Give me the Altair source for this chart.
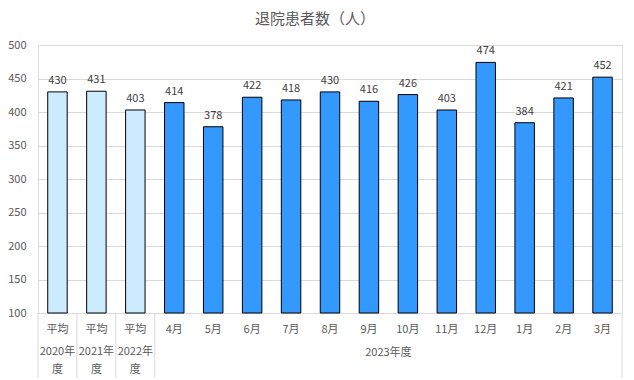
import altair as alt
import pandas as pd

top_labels = ["平均", "平均", "平均", "4月", "5月", "6月", "7月", "8月", "9月",
              "10月", "11月", "12月", "1月", "2月", "3月"]
group_labels = ["2020年度", "2021年度", "2022年度"] + ["2023年度"] * 12
values = [430, 431, 403, 414, 378, 422, 418, 430, 416, 426, 403, 474, 384, 421, 452]
kinds = ["avg", "avg", "avg"] + ["month"] * 12
y_ticks = [100, 150, 200, 250, 300, 350, 400, 450, 500]

keys = [t + "|" + g for t, g in zip(top_labels, group_labels)]
df = pd.DataFrame({"key": keys, "top": top_labels, "group": group_labels,
                   "value": values, "kind": kinds})
order = keys

FONT = "Noto Sans CJK JP"
GRAY = "#595959"

xs = alt.Scale(domain=order, paddingInner=0, paddingOuter=0)
X = alt.X("key:N", scale=xs, axis=None, sort=order)
ys = alt.Scale(domain=[100, 500], clamp=True, nice=False, zero=False)
Y = alt.Y("value:Q", scale=ys,
          axis=alt.Axis(values=y_ticks, title=None, labelOverlap=False,
                        domain=False, ticks=False, labelPadding=12, labelFontSize=11,
                        labelColor=GRAY, labelFont=FONT, gridColor="#D9D9D9"))

bars = alt.Chart(df).mark_bar(width={"band": 0.5}, stroke="black", strokeWidth=1).encode(
    x=X, y=Y,
    y2=alt.datum(100),
    color=alt.Color("kind:N", scale=alt.Scale(domain=["avg", "month"],
                                              range=["#CCEBFF", "#3399FF"]), legend=None),
)

vlabels = alt.Chart(df).mark_text(baseline="bottom", dy=-6, fontSize=11, color="#404040",
                                  font=FONT).encode(
    x=X, y=Y, text="value:Q")

toprow = alt.Chart(df).mark_text(fontSize=11, color=GRAY, font=FONT, baseline="middle").encode(
    x=X, y=alt.value(285), text="top:N")

avg = df[df.kind == "avg"].copy()
avg["l2"] = avg["group"].str[:5]
avg["l3"] = avg["group"].str[5:]
row2 = alt.Chart(avg).mark_text(fontSize=11, color=GRAY, font=FONT, baseline="middle").encode(
    x=X, y=alt.value(307), text="l2:N")
row3 = alt.Chart(avg).mark_text(fontSize=11, color=GRAY, font=FONT, baseline="middle").encode(
    x=X, y=alt.value(325), text="l3:N")

grp = df[df.top == "9月"]
grouplabel = alt.Chart(grp).mark_text(fontSize=11, color=GRAY, font=FONT, baseline="middle").encode(
    x=alt.X("key:N", scale=xs, axis=None, sort=order, bandPosition=1),
    y=alt.value(308), text="group:N")

sep_df = df[df.top.isin(["平均", "4月"])]
seps = alt.Chart(sep_df).mark_rule(color="#D9D9D9", strokeWidth=1).encode(
    x=alt.X("key:N", scale=xs, axis=None, sort=order, bandPosition=0),
    y=alt.value(268), y2=alt.value(333))
end_df = df[df.top == "3月"]
endsep = alt.Chart(end_df).mark_rule(color="#D9D9D9", strokeWidth=1).encode(
    x=alt.X("key:N", scale=xs, axis=None, sort=order, bandPosition=1),
    y=alt.value(268), y2=alt.value(333))

chart = alt.layer(bars, vlabels, toprow, row2, row3, grouplabel, seps, endsep).properties(
    width=584, height=268,
    autosize=alt.AutoSizeParams(type="none"),
    padding={"left": 30, "top": 37, "right": 4, "bottom": 66},
    title=alt.TitleParams("退院患者数（人）", fontSize=15, fontWeight="normal",
                          color=GRAY, font=FONT, offset=12, anchor="middle", frame="bounds"),
).configure_view(stroke=None).configure(background="white")

chart.save("out.html", embed_options={"renderer": "svg", "actions": False})
